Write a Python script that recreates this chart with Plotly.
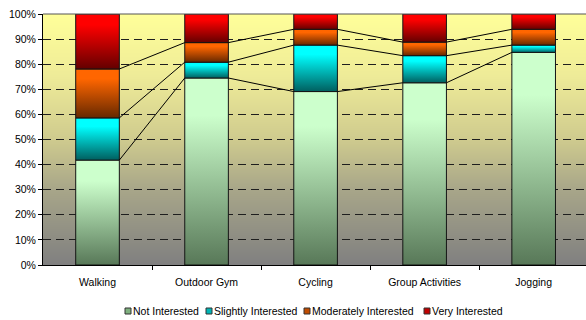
import base64
import struct
import zlib
import plotly.graph_objects as go

# ---------------- data ----------------
categories = ["Walking", "Outdoor Gym", "Cycling", "Group Activities", "Jogging"]
series_names = ["Not Interested", "Slightly Interested", "Moderately Interested", "Very Interested"]
not_interested = [41.8, 74.5, 69.1, 72.6, 84.7]
slightly_interested = [16.8, 6.3, 18.5, 10.8, 2.9]
moderately_interested = [19.5, 7.8, 6.3, 5.4, 6.3]
very_interested = [21.9, 11.4, 6.1, 11.2, 6.1]
y_tick_values = [0, 10, 20, 30, 40, 50, 60, 70, 80, 90, 100]
y_tick_labels = [f"{v}%" for v in y_tick_values]

# ---------------- styles ----------------
FONT = "Liberation Sans, Arial, sans-serif"
bright = ["#ccffcc", "#00ffff", "#ff6600", "#ff0000"]
dark = ["#587858", "#005f5f", "#662800", "#640000"]
legend_col = ["#7fb07f", "#00b5b5", "#c04c00", "#c00000"]
HALF_W = 0.2

# plot-area geometry in pixels (for converting the custom legend to paper coords)
PL, PR, PT, PB = 43, 586, 14, 265
# legend layout: swatch left edges (px) and legend row centre (px)
legend_swatch_x = [125, 206, 304, 424]
legend_y = 311
SW = 6


def px_x(p):
    return (p - PL) / (PR - PL)


def px_y(p):
    return (PB - p) / (PB - PT)


def gradient_png(stops, h=256):
    """1-px wide vertical gradient PNG; stops: list of (t, (r,g,b)), t=0 bottom."""
    def col(t):
        for (t0, c0), (t1, c1) in zip(stops[:-1], stops[1:]):
            if t0 <= t <= t1:
                f = 0 if t1 == t0 else (t - t0) / (t1 - t0)
                return tuple(int(round(a + (b - a) * f)) for a, b in zip(c0, c1))
        return stops[-1][1]
    raw = b""
    for j in range(h):
        t = 1 - j / (h - 1)
        raw += b"\x00" + bytes(col(t))

    def chunk(tag, data):
        c = struct.pack(">I", len(data)) + tag + data
        return c + struct.pack(">I", zlib.crc32(tag + data) & 0xFFFFFFFF)

    png = b"\x89PNG\r\n\x1a\n"
    png += chunk(b"IHDR", struct.pack(">IIBBBBB", 1, h, 8, 2, 0, 0, 0))
    png += chunk(b"IDAT", zlib.compress(raw))
    png += chunk(b"IEND", b"")
    return "data:image/png;base64," + base64.b64encode(png).decode()


bg_uri = gradient_png([
    (0.0, (128, 128, 128)),
    (0.3, (168, 166, 137)),
    (0.5, (207, 203, 142)),
    (0.75, (238, 235, 152)),
    (1.0, (255, 255, 153)),
])

series = [not_interested, slightly_interested, moderately_interested, very_interested]
totals = [sum(v) for v in zip(*series)]
shares = [[v / t * 100 for v, t in zip(s, totals)] for s in series]

fig = go.Figure()

# stacked segments with vertical gradient fill
cum = [0.0] * len(categories)
tops = []
for k, s in enumerate(shares):
    top_k = []
    for i, v in enumerate(s):
        base = cum[i]
        top = base + v
        fig.add_trace(go.Scatter(
            x=[i - HALF_W, i + HALF_W, i + HALF_W, i - HALF_W, i - HALF_W],
            y=[base, base, top, top, base],
            mode="lines",
            fill="toself",
            fillgradient=dict(type="vertical",
                              colorscale=[[0, dark[k]], [0.8, bright[k]], [1, bright[k]]]),
            line=dict(color="#141414", width=1),
            name=series_names[k],
            showlegend=False,
            hoverinfo="skip",
        ))
        cum[i] = top
        top_k.append(top)
    tops.append(top_k)

# series lines between bars
for k in range(3):
    xs, ys = [], []
    for i in range(len(categories) - 1):
        xs += [i + HALF_W, i + 1 - HALF_W, None]
        ys += [tops[k][i], tops[k][i + 1], None]
    fig.add_trace(go.Scatter(x=xs, y=ys, mode="lines",
                             line=dict(color="#000000", width=1),
                             showlegend=False, hoverinfo="skip"))

# custom compact legend (swatch shapes + text annotations)
shapes = [dict(type="line", xref="paper", yref="paper", x0=0, x1=1, y0=1, y1=1,
               line=dict(color="#555555", width=1))]
annotations = []
for k, name in enumerate(series_names):
    x0 = legend_swatch_x[k]
    shapes.append(dict(type="rect", xref="paper", yref="paper",
                       x0=px_x(x0), x1=px_x(x0 + SW),
                       y0=px_y(legend_y + SW / 2), y1=px_y(legend_y - SW / 2),
                       fillcolor=legend_col[k], line=dict(color="#333333", width=1)))
    annotations.append(dict(text=name, xref="paper", yref="paper",
                            x=px_x(x0 + SW), y=px_y(legend_y),
                            xanchor="left", yanchor="middle", showarrow=False,
                            font=dict(family=FONT, size=10.5, color="#000000")))

fig.update_layout(
    width=586, height=320,
    margin=dict(l=PL, r=586 - PR, t=PT, b=320 - PB, autoexpand=False),
    paper_bgcolor="white",
    plot_bgcolor="#d0cc8e",
    font=dict(family=FONT, size=10.5, color="#000000"),
    images=[dict(source=bg_uri, xref="paper", yref="paper", x=0, y=1,
                 sizex=1, sizey=1, xanchor="left", yanchor="top",
                 sizing="stretch", layer="below")],
    showlegend=False,
    shapes=shapes,
    annotations=annotations,
)

fig.update_xaxes(
    range=[-0.5, 4.48],
    tickmode="array", tickvals=list(range(len(categories))), ticktext=categories,
    ticks="", ticklabelstandoff=7,
    showline=True, linecolor="#000000", linewidth=1,
    showgrid=False, zeroline=False, automargin=False,
    minor=dict(tickvals=[i + 0.5 for i in range(len(categories) - 1)],
               ticks="outside", ticklen=4, tickcolor="#000000", tickwidth=1, showgrid=False),
    fixedrange=True,
)
fig.update_yaxes(
    range=[0, 100],
    tickmode="array", tickvals=y_tick_values, ticktext=y_tick_labels,
    ticks="outside", ticklen=4, tickcolor="#000000", tickwidth=1,
    showline=True, linecolor="#000000", linewidth=1,
    showgrid=True, gridcolor="#1e1e1e", gridwidth=1, griddash="8px,5px",
    zeroline=False, automargin=False,
    fixedrange=True,
)

fig.write_html("out.html")
